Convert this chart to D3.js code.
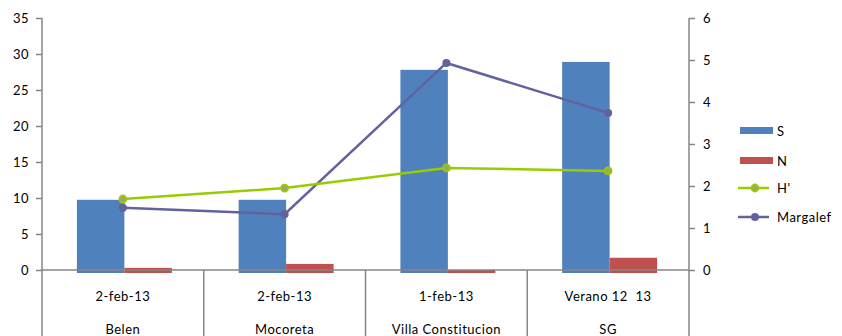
<!DOCTYPE html>
<html><head><meta charset="utf-8">
<script src="https://cdn.jsdelivr.net/npm/d3@7"></script>
<style>body{margin:0;background:#fff}svg{display:block}text{font-family:Lato,"Open Sans",sans-serif;fill:#000;white-space:pre}</style>
</head><body><svg id="c" width="842" height="336"></svg>
<script>
const dates = ["2-feb-13","2-feb-13","1-feb-13","Verano 12  13"];
const sites = ["Belen","Mocoreta","Villa Constitucion","SG"];
const S = [9.75, 9.75, 27.8, 28.9];
const N = [0.3, 0.85, 0, 1.7];
const H = [1.69, 1.95, 2.43, 2.36];
const Margalef = [1.48, 1.33, 4.93, 3.74];
const leftTicks = [0,5,10,15,20,25,30,35];
const rightTicks = [0,1,2,3,4,5,6];

const svg = d3.select("#c");
const L = 42, R = 689, T = 18, B = 270;
const axisColor = "#868686";
const x0 = d3.scaleBand().domain(d3.range(4)).range([L,R]).paddingInner(0.413).paddingOuter(0.2065);
const x1 = d3.scaleBand().domain(["S","N"]).range([1.5,x0.bandwidth()+1.5]);
const yL = d3.scaleLinear().domain([0,35]).range([B,T]);
const yR = d3.scaleLinear().domain([0,6]).range([B,T]);
const cx = i => x0(i) + x0.bandwidth()/2;
const below = 3;

const colS = "#4F81BD", colN = "#C0504D", colH = "#99CC00", colM = "#62629F";
svg.append("g").selectAll("rect").data(S).join("rect")
  .attr("x",(d,i)=>x0(i)+x1("S")).attr("width",x1.bandwidth())
  .attr("y",d=>yL(d)).attr("height",d=>yL(0)-yL(d)+below).attr("fill",colS);
svg.append("g").selectAll("rect").data(N).join("rect")
  .attr("x",(d,i)=>x0(i)+x1("N")).attr("width",x1.bandwidth())
  .attr("y",d=>yL(d)).attr("height",d=>yL(0)-yL(d)+below).attr("fill",colN);

const gl = svg.append("g").attr("transform",`translate(${L},0)`)
  .call(d3.axisLeft(yL).tickValues(leftTicks).tickSize(6).tickPadding(7).tickFormat(d3.format("d")));
const gr = svg.append("g").attr("transform",`translate(${R},0)`)
  .call(d3.axisRight(yR).tickValues(rightTicks).tickSize(6).tickPadding(8).tickFormat(d3.format("d")));
[gl,gr].forEach(g=>{
  g.select(".domain").remove();
  g.selectAll("line").attr("stroke",axisColor).attr("stroke-width",1.5);
  g.selectAll("text").attr("font-size",13).style("font-family","Lato,sans-serif").style("letter-spacing","0.5px");
});
svg.append("line").attr("x1",L).attr("x2",L).attr("y1",T).attr("y2",336).attr("stroke",axisColor).attr("stroke-width",1.5);
svg.append("line").attr("x1",R).attr("x2",R).attr("y1",T).attr("y2",336).attr("stroke",axisColor).attr("stroke-width",1.5);
svg.append("line").attr("x1",L).attr("x2",R).attr("y1",yL(0)).attr("y2",yL(0)).attr("stroke",axisColor).attr("stroke-width",1.5);
svg.append("g").selectAll("line").data(d3.range(1,4)).join("line")
  .attr("x1",i=>x0(i)-x0.step()*0.2065).attr("x2",i=>x0(i)-x0.step()*0.2065)
  .attr("y1",yL(0)).attr("y2",336).attr("stroke",axisColor).attr("stroke-width",1.5);
svg.append("g").selectAll("text").data(dates).join("text")
  .attr("x",(d,i)=>cx(i)).attr("y",301).attr("text-anchor","middle").attr("font-size",13).style("letter-spacing","0.5px").text(d=>d);
svg.append("g").selectAll("text").data(sites).join("text")
  .attr("x",(d,i)=>cx(i)).attr("y",334).attr("text-anchor","middle").attr("font-size",13).style("letter-spacing","0.5px").text(d=>d);

const line = d3.line().x((d,i)=>cx(i)).y(d=>yR(d));
svg.append("path").datum(Margalef).attr("d",line).attr("fill","none").attr("stroke",colM).attr("stroke-width",2.5);
svg.append("g").selectAll("circle").data(Margalef).join("circle")
  .attr("cx",(d,i)=>cx(i)).attr("cy",d=>yR(d)).attr("r",4).attr("fill",colM);
svg.append("path").datum(H).attr("d",line).attr("fill","none").attr("stroke",colH).attr("stroke-width",2.5);
svg.append("g").selectAll("circle").data(H).join("circle")
  .attr("cx",(d,i)=>cx(i)).attr("cy",d=>yR(d)).attr("r",3.5).attr("fill","#9AA860").attr("stroke",colH).attr("stroke-width",1.8);

const lg = svg.append("g");
const items = [{n:"S",t:"bar",c:colS,y:131},{n:"N",t:"bar",c:colN,y:161},{n:"H'",t:"lineH",c:colH,y:188},{n:"Margalef",t:"lineM",c:colM,y:217}];
items.forEach(it=>{
  if(it.t==="bar"){
    lg.append("rect").attr("x",740).attr("y",it.y-4).attr("width",33).attr("height",7).attr("fill",it.c);
  } else {
    lg.append("line").attr("x1",738).attr("x2",769).attr("y1",it.y).attr("y2",it.y).attr("stroke",it.c).attr("stroke-width",2.5);
    if(it.t==="lineH") lg.append("circle").attr("cx",755).attr("cy",it.y).attr("r",3.5).attr("fill","#9AA860").attr("stroke",colH).attr("stroke-width",1.8);
    else lg.append("circle").attr("cx",755).attr("cy",it.y).attr("r",4).attr("fill",colM);
  }
  lg.append("text").attr("x",777).attr("y",it.y+5).attr("font-size",13).style("letter-spacing","0.5px").text(it.n);
});
</script></body></html>
